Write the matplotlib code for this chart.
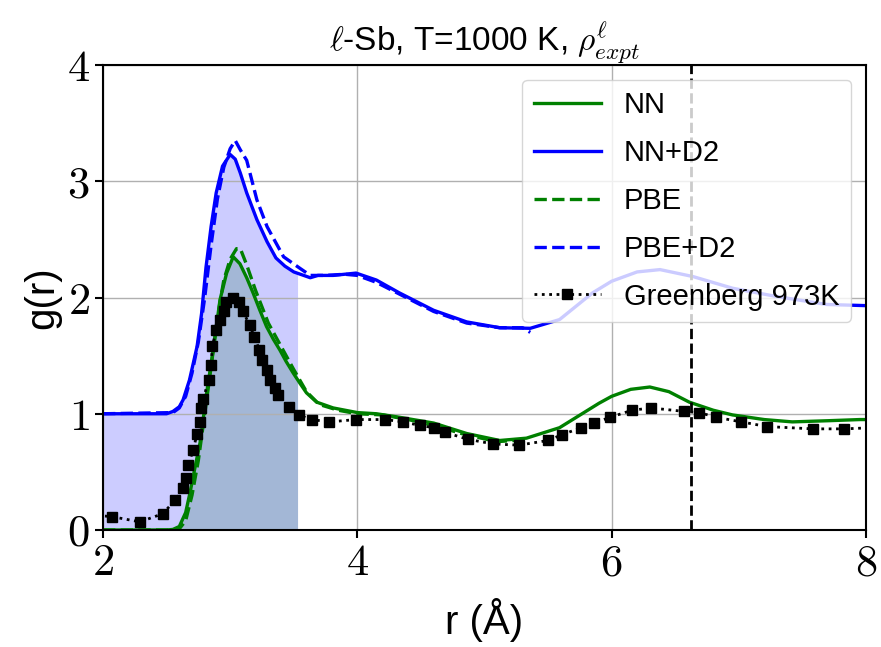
import numpy as np
from matplotlib import pyplot as plt
from matplotlib.ticker import FuncFormatter

plt.rcParams['mathtext.fontset'] = 'cm'
plt.rcParams['font.family'] = ['Liberation Sans', 'DejaVu Sans']

# g(r) curves (NN+D2 and PBE+D2 already shifted up by 1)
r_nn = [2.0, 2.5, 2.55, 2.6, 2.65, 2.684, 2.72, 2.763, 2.815, 2.867, 2.92, 2.972,
        3.024, 3.077, 3.13, 3.18, 3.23, 3.286, 3.34, 3.39, 3.44, 3.496, 3.55, 3.6,
        3.68, 3.81, 4.0, 4.15, 4.33, 4.6, 4.86, 5.12, 5.33, 5.59, 5.9, 6.0, 6.15,
        6.3, 6.45, 6.61, 6.8, 6.95, 7.2, 7.42, 7.7, 7.95, 8.0]
g_nn = [0.0, 0.0, 0.005, 0.03, 0.15, 0.32, 0.52, 0.75, 1.18, 1.55, 1.98, 2.21,
        2.35, 2.29, 2.17, 2.04, 1.90, 1.75, 1.64, 1.55, 1.45, 1.35, 1.26, 1.18,
        1.10, 1.05, 1.01, 1.00, 0.97, 0.92, 0.83, 0.77, 0.79, 0.88, 1.09, 1.15, 1.21,
        1.23, 1.19, 1.10, 1.03, 0.99, 0.95, 0.93, 0.94, 0.95, 0.95]

r_nnd2 = [2.0, 2.5, 2.55, 2.6, 2.63, 2.68, 2.74, 2.775, 2.81, 2.85, 2.89, 2.94,
          3.0, 3.04, 3.08, 3.13, 3.21, 3.29, 3.36, 3.43, 3.5, 3.63, 3.69, 3.81,
          3.99, 4.15, 4.33, 4.6, 4.86, 5.12, 5.36, 5.59, 5.85, 6.0, 6.2, 6.38,
          6.64, 6.95, 7.29, 7.69, 8.0]
g_nnd2 = [1.0, 1.0, 1.02, 1.06, 1.12, 1.29, 1.58, 1.86, 2.26, 2.61, 2.90, 3.13,
          3.23, 3.19, 3.07, 2.90, 2.67, 2.48, 2.34, 2.27, 2.22, 2.17, 2.19, 2.19,
          2.21, 2.15, 2.04, 1.89, 1.79, 1.74, 1.735, 1.81, 2.04, 2.14, 2.22, 2.24,
          2.18, 2.08, 2.01, 1.94, 1.93]

r_pbe = [2.0, 2.55, 2.6, 2.65, 2.7, 2.75, 2.8, 2.85, 2.9, 2.95, 3.0, 3.05, 3.08,
         3.13, 3.2, 3.3, 3.4, 3.5, 3.6, 3.7, 3.85, 4.0, 4.2, 4.4, 4.6, 4.85, 5.1, 5.35]
g_pbe = [0.0, 0.0, 0.01, 0.08, 0.3, 0.6, 1.0, 1.4, 1.83, 2.15, 2.33, 2.42, 2.42,
         2.28, 2.06, 1.78, 1.58, 1.38, 1.19, 1.08, 1.03, 1.0, 0.99, 0.95, 0.9, 0.82, 0.76, 0.78]

r_pbed2 = [2.0, 2.55, 2.6, 2.65, 2.7, 2.75, 2.8, 2.85, 2.9, 2.95, 3.0, 3.04, 3.08,
           3.13, 3.21, 3.29, 3.42, 3.55, 3.63, 3.75, 3.9, 4.0, 4.15, 4.33, 4.6,
           4.86, 5.12, 5.3, 5.36]
g_pbed2 = [1.0, 1.01, 1.05, 1.15, 1.35, 1.62, 2.0, 2.45, 2.85, 3.12, 3.28, 3.35, 3.27,
           3.18, 2.84, 2.61, 2.35, 2.25, 2.19, 2.19, 2.2, 2.19, 2.13, 2.03, 1.88,
           1.78, 1.74, 1.74, 1.70]

# Greenberg experiment, 973 K
r_exp = [1.9, 2.07, 2.29, 2.47, 2.57, 2.63, 2.65, 2.67, 2.71, 2.74, 2.76, 2.77, 2.79,
         2.83, 2.85, 2.86, 2.89, 2.92, 2.95, 2.97, 3.02, 3.07, 3.10, 3.155, 3.19,
         3.23, 3.25, 3.29, 3.31, 3.35, 3.38, 3.46, 3.54, 3.64, 3.78, 3.99, 4.22,
         4.36, 4.49, 4.6, 4.69, 4.87, 5.07, 5.27, 5.5, 5.61, 5.76, 5.86, 5.99,
         6.16, 6.31, 6.57, 6.69, 6.82, 7.02, 7.22, 7.58, 7.83, 8.05]
g_exp = [0.13, 0.115, 0.07, 0.14, 0.26, 0.36, 0.45, 0.56, 0.69, 0.83, 0.93, 1.05, 1.13,
         1.29, 1.42, 1.58, 1.72, 1.81, 1.88, 1.96, 2.0, 1.96, 1.88, 1.76, 1.66,
         1.55, 1.46, 1.38, 1.29, 1.22, 1.16, 1.06, 0.99, 0.95, 0.93, 0.95, 0.95,
         0.93, 0.90, 0.88, 0.84, 0.78, 0.74, 0.73, 0.77, 0.82, 0.88, 0.92, 0.97,
         1.03, 1.05, 1.02, 1.01, 0.97, 0.93, 0.89, 0.87, 0.87, 0.88]

r_cut = 3.53    # end of shaded first shell
r_half = 6.62   # dashed marker line

fig = plt.figure(figsize=(8.81, 6.47), dpi=100)
ax = fig.add_axes([103 / 881, 1 - 530 / 647, 763 / 881, 465 / 647])

# shaded first coordination shell (green first, blue on top)
rr = np.linspace(2.0, r_cut, 200)
ax.fill_between(rr, np.interp(rr, r_nn, g_nn), color='g', alpha=0.2, lw=0)
ax.fill_between(rr, np.interp(rr, r_nnd2, g_nnd2), color='b', alpha=0.2, lw=0)

lw = 2.4
ax.plot(r_nn, g_nn, 'g-', lw=lw, label='NN')
ax.plot(r_nnd2, g_nnd2, 'b-', lw=lw, label='NN+D2')
ax.plot(r_pbe, g_pbe, 'g--', lw=lw, label='PBE')
ax.plot(r_pbed2, g_pbed2, 'b--', lw=lw, label='PBE+D2')
ax.plot(r_exp, g_exp, 'k:', marker='s', ms=7.5, lw=2, label='Greenberg 973K')
ax.axvline(r_half, color='k', ls='--', lw=2)

ax.set_xlim(2, 8)
ax.set_ylim(0, 4)
ax.set_xticks([2, 4, 6, 8])
ax.set_yticks([0, 1, 2, 3, 4])
fmt = FuncFormatter(lambda v, p: r'$%d$' % v)
ax.xaxis.set_major_formatter(fmt)
ax.yaxis.set_major_formatter(fmt)
ax.tick_params(labelsize=32, width=1.5, length=6)
ax.grid(True, color='#b0b0b0', lw=1)
for s in ax.spines.values():
    s.set_linewidth(1.5)

ax.set_xlabel('r (Å)', fontsize=29, labelpad=10)
ax.set_ylabel('g(r)', fontsize=29, labelpad=4)
ax.set_title(r'$\ell$-Sb, T=1000 K, $\rho^{\ell}_{expt}$', fontsize=24, pad=10)

ax.legend(loc='upper right', fontsize=21, handlelength=2.3, framealpha=0.8,
          labelspacing=0.68)

fig.savefig('out.png', dpi=100)
